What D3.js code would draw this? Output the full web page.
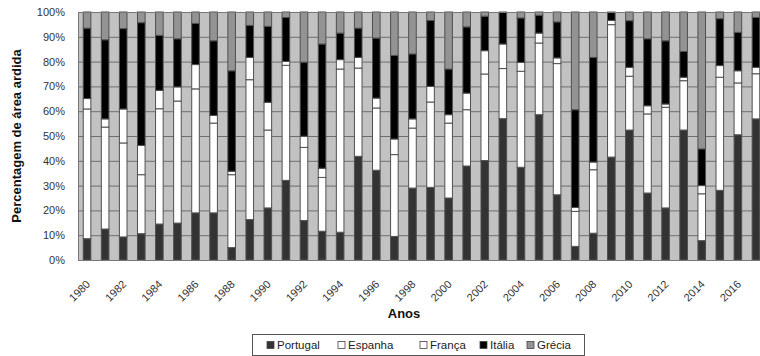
<!DOCTYPE html>
<html>
<head>
<meta charset="utf-8">
<script src="https://cdn.jsdelivr.net/npm/d3@7"></script>
<style>
  html, body { margin: 0; padding: 0; background: #fff; }
  svg { display: block; font-family: "Liberation Sans", Arial, sans-serif; }
</style>
</head>
<body>
<svg id="chart" width="760" height="356"></svg>
<script>
// Share of burnt area per country (%), 1980–2017
const years = d3.range(1980, 2018);
const portugal = [8.6,12.5,9.3,10.6,14.5,14.9,19.0,19.0,5.0,16.3,21.0,32.1,15.9,11.6,11.2,41.8,36.2,9.5,29.0,29.3,25.0,37.9,40.1,57.0,37.4,58.6,26.3,5.5,10.8,41.5,52.4,27.0,21.0,52.4,7.8,28.1,50.5,56.9];
const espanha  = [52.3,41.1,37.9,23.8,46.5,49.2,50.0,36.2,29.4,56.4,31.4,46.4,29.5,21.7,65.8,35.6,25.1,33.0,24.2,34.4,30.2,22.7,34.9,20.2,38.7,28.9,52.9,14.1,25.6,53.4,21.7,31.9,40.6,19.9,18.9,45.6,20.9,18.2];
const franca   = [4.2,3.3,13.7,11.8,7.4,5.7,9.8,3.1,1.4,9.0,11.2,1.6,4.5,3.7,3.8,4.3,4.0,6.3,3.7,6.3,3.4,6.7,9.4,9.9,3.6,4.0,2.3,1.6,3.1,1.7,3.6,3.3,1.3,1.4,3.3,4.7,4.9,2.6];
const italia   = [28.4,31.9,32.4,49.5,22.2,19.4,16.6,30.1,40.5,12.9,30.6,17.7,29.9,50.1,10.7,11.8,24.2,33.7,26.2,26.6,18.4,26.7,13.9,12.9,17.9,7.2,14.5,39.4,42.2,3.4,18.8,27.0,25.5,10.4,14.8,18.9,15.5,20.1];
const grecia   = [6.5,11.2,6.7,4.3,9.4,10.8,4.6,11.6,23.7,5.4,5.8,2.2,20.2,12.9,8.5,6.5,10.5,17.5,16.9,3.4,23.0,6.0,1.7,0.0,2.4,1.3,4.0,39.4,18.3,0.0,3.5,10.8,11.6,15.9,55.2,2.7,8.2,2.2];
const seriesNames = ["Portugal", "Espanha", "França", "Itália", "Grécia"];
const yTicks = [0,10,20,30,40,50,60,70,80,90,100];

const fills = ["#333333", "#ffffff", "#ffffff", "#000000", "#939393"];

const rows = years.map((y, i) => ({
  year: y,
  Portugal: portugal[i], Espanha: espanha[i], "França": franca[i],
  "Itália": italia[i], "Grécia": grecia[i]
}));

const svg = d3.select("#chart");
const plot = { left: 78, right: 765, top: 12, bottom: 260 };

const x = d3.scaleBand()
  .domain(years)
  .range([plot.left, plot.right])
  .paddingInner(0.58)
  .paddingOuter(0.29);

const y = d3.scaleLinear().domain([0, 100]).range([plot.bottom, plot.top]);

// plot background
svg.append("rect")
  .attr("x", plot.left).attr("y", plot.top)
  .attr("width", plot.right - plot.left).attr("height", plot.bottom - plot.top)
  .attr("fill", "#c2c2c2");

// horizontal grid
svg.append("g").selectAll("line").data(yTicks).join("line")
  .attr("x1", plot.left).attr("x2", plot.right)
  .attr("y1", d => y(d) + 0.5).attr("y2", d => y(d) + 0.5)
  .attr("stroke", "#6e6e6e").attr("stroke-width", 1);

// stacked bars
const stack = d3.stack().keys(seriesNames)
  .offset(d3.stackOffsetExpand);
const layers = stack(rows);

svg.append("g").selectAll("g").data(layers).join("g")
  .attr("fill", (d, i) => fills[i])
  .selectAll("rect").data(d => d).join("rect")
    .attr("x", d => x(d.data.year))
    .attr("width", x.bandwidth())
    .attr("y", d => y(d[1] * 100))
    .attr("height", d => y(d[0] * 100) - y(d[1] * 100))
    .attr("stroke", "#505050")
    .attr("stroke-width", 1);

// plot frame
svg.append("rect")
  .attr("x", plot.left + 0.5).attr("y", plot.top + 0.5)
  .attr("width", plot.right - plot.left).attr("height", plot.bottom - plot.top)
  .attr("fill", "none").attr("stroke", "#777");

// y axis
const yAxis = svg.append("g")
  .attr("transform", `translate(${plot.left},0)`)
  .call(d3.axisLeft(y).tickValues(yTicks).tickFormat(d => d + "%").tickSize(0).tickPadding(13));
yAxis.select(".domain").remove();
yAxis.selectAll("text").attr("font-size", 11).attr("fill", "#333")
  .attr("font-family", "Liberation Sans, Arial, sans-serif");

// x axis (every other year, rotated)
const xAxis = svg.append("g")
  .attr("transform", `translate(0,${plot.bottom})`)
  .call(d3.axisBottom(x).tickValues(years.filter(d => d % 2 === 0)).tickSize(0));
xAxis.select(".domain").remove();
xAxis.selectAll("text")
  .attr("font-size", 11).attr("fill", "#333")
  .attr("font-family", "Liberation Sans, Arial, sans-serif")
  .attr("text-anchor", "end")
  .attr("dy", "0.35em")
  .attr("transform", "translate(-1,20) rotate(-45)");

// axis titles
svg.append("text")
  .attr("transform", `translate(16,${(plot.top + plot.bottom) / 2}) rotate(-90)`)
  .attr("text-anchor", "middle").attr("dy", "0.35em")
  .attr("font-size", 13).attr("font-weight", "bold").attr("fill", "#111")
  .text("Percentagem de área ardida");

svg.append("text")
  .attr("x", 404).attr("y", 318)
  .attr("text-anchor", "middle")
  .attr("font-size", 13).attr("font-weight", "bold").attr("fill", "#111")
  .text("Anos");

// legend
const legend = svg.append("g");
legend.append("rect")
  .attr("x", 252.5).attr("y", 334.5).attr("width", 332).attr("height", 21)
  .attr("fill", "#fff").attr("stroke", "#555");
const legendX = [267, 338, 420, 480, 527];
const items = legend.selectAll("g.item").data(seriesNames).join("g")
  .attr("class", "item")
  .attr("transform", (d, i) => `translate(${legendX[i]},345)`);
items.append("rect")
  .attr("x", 0).attr("y", -3.5).attr("width", 7).attr("height", 7)
  .attr("fill", (d, i) => fills[i]).attr("stroke", "#444").attr("stroke-width", 0.8);
items.append("text")
  .attr("x", 10).attr("dy", "0.35em")
  .attr("font-size", 11.5).attr("fill", "#222")
  .text(d => d);
</script>
</body>
</html>
